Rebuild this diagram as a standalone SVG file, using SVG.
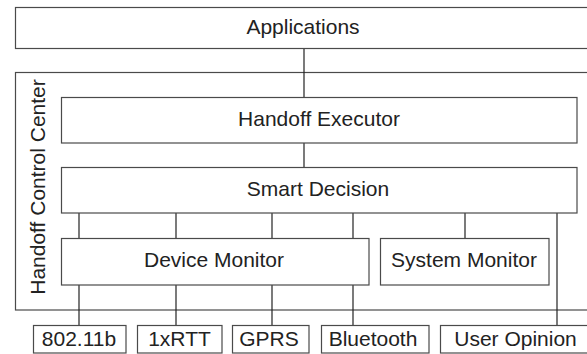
<svg xmlns="http://www.w3.org/2000/svg" width="587" height="354" viewBox="0 0 587 354">
<style>
.box{fill:#fff;stroke:#4a4a4a;stroke-width:1.2}
.lbl{font-family:"Liberation Sans",Arial,sans-serif;font-size:21px;fill:#222;text-anchor:middle}
.con{stroke:#222;stroke-width:1.2;fill:none}
</style>
<rect width="587" height="354" fill="#fff"/>
<g id="applications">
<rect class="box" x="15.5" y="7.5" width="580" height="41"/>
<text class="lbl" x="303" y="34">Applications</text>
</g>
<g id="handoff-control-center">
<rect class="box" x="15.5" y="72.5" width="580" height="237.5"/>
<text class="lbl" transform="translate(45 187) rotate(-90)">Handoff Control Center</text>
</g>
<g id="connectors">
<line class="con" x1="304" y1="49" x2="304" y2="97"/>
<line class="con" x1="304" y1="143" x2="304" y2="167"/>
<line class="con" x1="79" y1="213" x2="79" y2="238"/>
<line class="con" x1="176" y1="213" x2="176" y2="238"/>
<line class="con" x1="272" y1="213" x2="272" y2="238"/>
<line class="con" x1="353" y1="213" x2="353" y2="238"/>
<line class="con" x1="465" y1="213" x2="465" y2="238"/>
<line class="con" x1="557" y1="213" x2="557" y2="325"/>
<line class="con" x1="79" y1="285" x2="79" y2="325"/>
<line class="con" x1="176" y1="285" x2="176" y2="325"/>
<line class="con" x1="272" y1="285" x2="272" y2="325"/>
<line class="con" x1="353" y1="285" x2="353" y2="325"/>
</g>
<g id="handoff-executor">
<rect class="box" x="61.5" y="97.5" width="515.5" height="45.5"/>
<text class="lbl" x="319" y="126">Handoff Executor</text>
</g>
<g id="smart-decision">
<rect class="box" x="61.5" y="167.5" width="515.5" height="45.5"/>
<text class="lbl" x="318" y="196">Smart Decision</text>
</g>
<g id="device-monitor">
<rect class="box" x="61.5" y="238.5" width="307.5" height="46.5"/>
<text class="lbl" x="214" y="267">Device Monitor</text>
</g>
<g id="system-monitor">
<rect class="box" x="380.5" y="238.5" width="168.5" height="46.5"/>
<text class="lbl" x="464" y="267">System Monitor</text>
</g>
<g id="n80211b">
<rect class="box" x="33.5" y="325.5" width="92.5" height="27.5"/>
<text class="lbl" x="79" y="346">802.11b</text>
</g>
<g id="n1xrtt">
<rect class="box" x="137.5" y="325.5" width="84.5" height="27.5"/>
<text class="lbl" x="179.5" y="346">1xRTT</text>
</g>
<g id="gprs">
<rect class="box" x="232.5" y="325.5" width="76.5" height="27.5"/>
<text class="lbl" x="269" y="346">GPRS</text>
</g>
<g id="bluetooth">
<rect class="box" x="321.5" y="325.5" width="107.5" height="27.5"/>
<text class="lbl" x="373" y="346">Bluetooth</text>
</g>
<g id="user-opinion">
<rect class="box" x="440.5" y="325.5" width="155" height="27.5"/>
<text class="lbl" x="515.5" y="346">User Opinion</text>
</g>
</svg>
